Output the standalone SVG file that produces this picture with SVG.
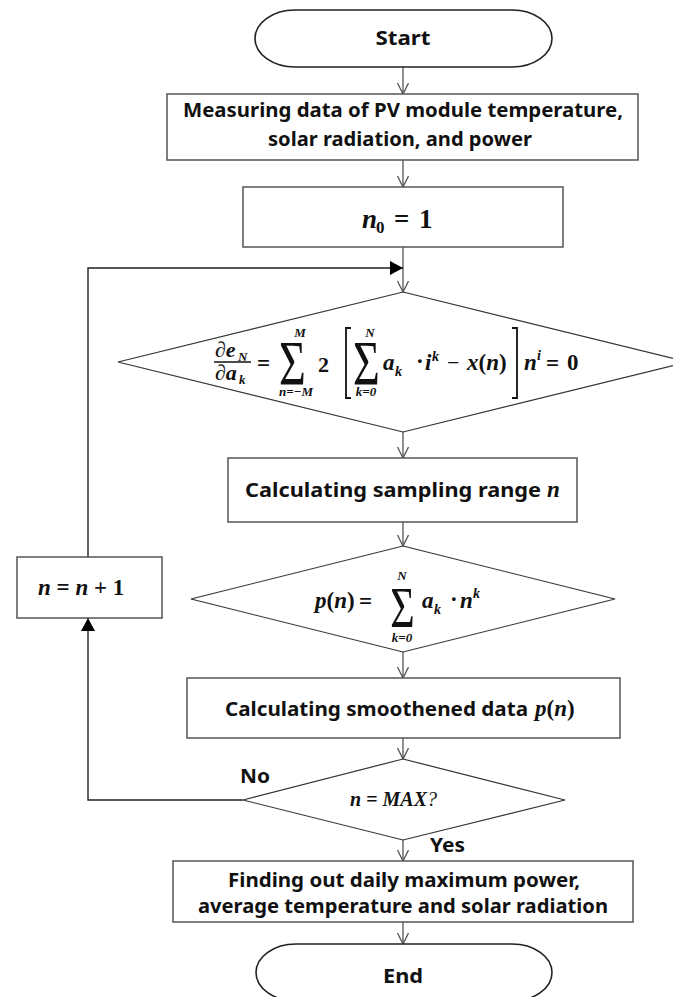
<svg xmlns="http://www.w3.org/2000/svg" width="673" height="997" viewBox="0 0 673 997">
<defs>
<style>
.box{fill:#fff;stroke:#555;stroke-width:1.5}
.dia{fill:#fff;stroke:#333;stroke-width:1.2}
.term{fill:#fff;stroke:#222;stroke-width:1.6}
.lbl{font-family:"Noto Sans","Open Sans","DejaVu Sans",sans-serif;font-weight:bold;fill:#111}
.m{font-family:"Liberation Serif","Times New Roman",serif;font-weight:bold;font-style:italic;fill:#111}
.mu{font-family:"Liberation Serif","Times New Roman",serif;font-weight:bold;fill:#111}
.sig{font-family:"Liberation Serif","Times New Roman",serif;fill:#111}
.flow{fill:none;stroke:#555;stroke-width:1.3}
.loop{fill:none;stroke:#222;stroke-width:1.4}
.br{fill:none;stroke:#111;stroke-width:1.8}
</style>
<marker id="open" markerUnits="userSpaceOnUse" markerWidth="16" markerHeight="14" refX="12" refY="6" orient="auto">
<path d="M1,0.5 L12,6 L1,11.5" fill="none" stroke="#555" stroke-width="1.3"/>
</marker>
<marker id="solid" markerUnits="userSpaceOnUse" markerWidth="16" markerHeight="16" refX="13" refY="7" orient="auto">
<path d="M0,0 L13,7 L0,14 Z" fill="#000"/>
</marker>
</defs>

<g id="connectors">
<line class="flow" x1="403" y1="67" x2="403" y2="94" marker-end="url(#open)"/>
<line class="flow" x1="403" y1="160" x2="403" y2="187" marker-end="url(#open)"/>
<line class="flow" x1="403" y1="247" x2="403" y2="292" marker-end="url(#open)"/>
<line class="flow" x1="403" y1="432" x2="403" y2="458" marker-end="url(#open)"/>
<line class="flow" x1="403" y1="522" x2="403" y2="546" marker-end="url(#open)"/>
<line class="flow" x1="403" y1="652" x2="403" y2="678" marker-end="url(#open)"/>
<line class="flow" x1="403" y1="738" x2="403" y2="759" marker-end="url(#open)"/>
<line class="flow" x1="403" y1="840" x2="403" y2="861" marker-end="url(#open)"/>
<line class="flow" x1="403" y1="922" x2="403" y2="944" marker-end="url(#open)"/>
<polyline class="loop" points="243,800 88,800 88,618" marker-end="url(#solid)"/>
<polyline class="loop" points="88,557 88,268 403,268" marker-end="url(#solid)"/>
</g>

<g id="start">
<rect class="term" x="255" y="10" width="297" height="57" rx="40" ry="28.5"/>
<text class="lbl" x="403" y="45" font-size="20" text-anchor="middle" textLength="55" lengthAdjust="spacingAndGlyphs">Start</text>
</g>

<g id="measure">
<rect class="box" x="167" y="94" width="471" height="66"/>
<text class="lbl" x="403" y="117" font-size="19" text-anchor="middle" textLength="440" lengthAdjust="spacingAndGlyphs">Measuring data of PV module temperature,</text>
<text class="lbl" x="400" y="146" font-size="19" text-anchor="middle" textLength="264" lengthAdjust="spacingAndGlyphs">solar radiation, and power</text>
</g>

<g id="init">
<rect class="box" x="243" y="187" width="320" height="60"/>
<text class="m" x="362" y="228" font-size="27">n</text>
<text class="mu" x="376" y="233" font-size="17">0</text>
<text class="mu" x="394" y="228" font-size="27">=</text>
<text class="mu" x="419" y="228" font-size="27">1</text>
</g>

<g id="lsq">
<polygon class="dia" points="403,292 688,362 403,432 118,362"/>
<text class="m" x="215" y="357" font-size="22">∂e</text>
<text class="m" x="238" y="361" font-size="13">N</text>
<line x1="214" y1="362" x2="251" y2="362" stroke="#111" stroke-width="1.4"/>
<text class="m" x="215" y="380" font-size="22">∂a</text>
<text class="m" x="239" y="384" font-size="13">k</text>
<text class="mu" x="257" y="371" font-size="23">=</text>
<text class="sig" font-size="64" text-anchor="middle" transform="translate(292.5,385) scale(0.72,1)">Σ</text>
<text class="m" x="300" y="337" font-size="13" text-anchor="middle">M</text>
<text class="m" x="296" y="396" font-size="13" text-anchor="middle">n=−M</text>
<text class="mu" x="318" y="372" font-size="22">2</text>
<polyline class="br" points="351,328 346,328 346,398 351,398"/>
<text class="sig" font-size="64" text-anchor="middle" transform="translate(366.5,385) scale(0.72,1)">Σ</text>
<text class="m" x="370" y="337" font-size="13" text-anchor="middle">N</text>
<text class="m" x="366" y="396" font-size="13" text-anchor="middle">k=0</text>
<text class="m" x="383" y="370" font-size="23">a</text>
<text class="m" x="395" y="376" font-size="14">k</text>
<text class="mu" x="416" y="369" font-size="23">·</text>
<text class="m" x="425" y="370" font-size="23">i</text>
<text class="m" x="432" y="361" font-size="14">k</text>
<text class="sig" x="447" y="370" font-size="22">−</text>
<text class="m" x="467" y="370" font-size="23">x<tspan class="mu" font-style="normal">(</tspan>n<tspan class="mu" font-style="normal">)</tspan></text>
<polyline class="br" points="512,328 517,328 517,398 512,398"/>
<text class="m" x="524" y="370" font-size="23">n</text>
<text class="m" x="537" y="360" font-size="14">i</text>
<text class="mu" x="546" y="371" font-size="23">=</text>
<text class="mu" x="567" y="370" font-size="23">0</text>
</g>

<g id="sampling">
<rect class="box" x="228" y="458" width="349" height="64"/>
<text class="lbl" x="245" y="497" font-size="19" textLength="296" lengthAdjust="spacingAndGlyphs">Calculating sampling range</text>
<text class="m" x="547" y="497" font-size="23">n</text>
</g>

<g id="poly">
<polygon class="dia" points="403,546 615,599 403,652 191,599"/>
<text class="m" x="315" y="608" font-size="23">p<tspan class="mu" font-style="normal">(</tspan>n<tspan class="mu" font-style="normal">)</tspan></text>
<text class="mu" x="359" y="609" font-size="23">=</text>
<text class="sig" font-size="56" text-anchor="middle" transform="translate(402.5,627) scale(0.75,1)">Σ</text>
<text class="m" x="402" y="580" font-size="13" text-anchor="middle">N</text>
<text class="m" x="402" y="642" font-size="13" text-anchor="middle">k=0</text>
<text class="m" x="422" y="608" font-size="23">a</text>
<text class="m" x="434" y="614" font-size="14">k</text>
<text class="mu" x="450" y="607" font-size="23">·</text>
<text class="m" x="460" y="608" font-size="23">n</text>
<text class="m" x="473" y="598" font-size="14">k</text>
</g>

<g id="smooth">
<rect class="box" x="187" y="678" width="433" height="60"/>
<text class="lbl" x="225" y="716" font-size="19" textLength="303" lengthAdjust="spacingAndGlyphs">Calculating smoothened data</text>
<text class="m" x="535" y="716" font-size="23">p<tspan class="mu" font-style="normal">(</tspan>n<tspan class="mu" font-style="normal">)</tspan></text>
</g>

<g id="incr">
<rect class="box" x="17" y="557" width="145" height="61"/>
<text x="38" y="595" font-size="23"><tspan class="m">n</tspan><tspan class="mu"> = </tspan><tspan class="m">n</tspan><tspan class="mu"> + 1</tspan></text>
</g>

<g id="check">
<polygon class="dia" points="403,759 565,800 403,840 243,800"/>
<text x="350" y="806" font-size="20"><tspan class="m">n</tspan><tspan class="mu"> = </tspan><tspan class="m">MAX</tspan><tspan class="sig" font-style="italic">?</tspan></text>
<text class="lbl" x="240" y="783" font-size="19" textLength="30" lengthAdjust="spacingAndGlyphs">No</text>
<text class="lbl" x="430" y="852" font-size="19" textLength="35" lengthAdjust="spacingAndGlyphs">Yes</text>
</g>

<g id="finish">
<rect class="box" x="173" y="861" width="460" height="61"/>
<text class="lbl" x="404" y="887" font-size="19" text-anchor="middle" textLength="352" lengthAdjust="spacingAndGlyphs">Finding out daily maximum power,</text>
<text class="lbl" x="403" y="913" font-size="19" text-anchor="middle" textLength="410" lengthAdjust="spacingAndGlyphs">average temperature and solar radiation</text>
</g>

<g id="end">
<rect class="term" x="256" y="944" width="296" height="57" rx="40" ry="28.5"/>
<text class="lbl" x="403" y="983" font-size="20" text-anchor="middle" textLength="40" lengthAdjust="spacingAndGlyphs">End</text>
</g>
</svg>
